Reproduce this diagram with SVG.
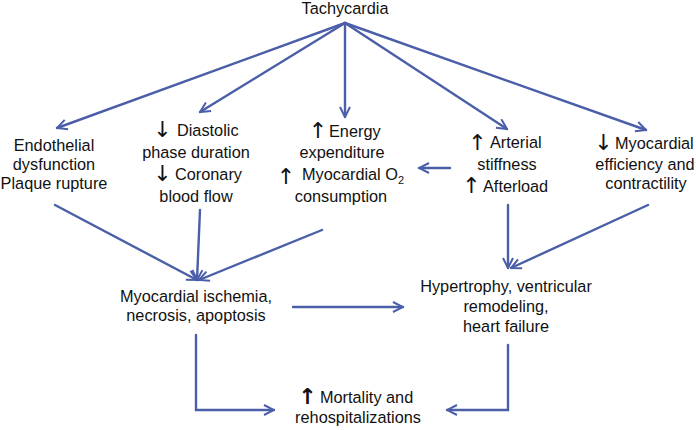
<svg xmlns="http://www.w3.org/2000/svg" width="696" height="430" viewBox="0 0 696 430">
<defs>
<style>
.t{font-family:"Liberation Sans",Arial,sans-serif;font-size:16.3px;fill:#111}
.m{text-anchor:middle}
.ar{font-family:"DejaVu Sans",sans-serif;font-size:22px;fill:#111;text-anchor:middle}
.c{fill:none;stroke:#4a5fa8;stroke-width:2.4;stroke-linecap:round;stroke-linejoin:miter}
</style>
<marker id="ah" viewBox="0 0 12 12" refX="11" refY="6" markerWidth="12" markerHeight="12" markerUnits="userSpaceOnUse" orient="auto">
<path d="M1,1 L11,6 L1,11" fill="none" stroke="#4a5fa8" stroke-width="2"/>
</marker>
</defs>
<rect width="696" height="430" fill="#fff"/>
<g id="connectors">
<path class="c" d="M345,23 L57,128" marker-end="url(#ah)"/>
<path class="c" d="M345,23 L200,112" marker-end="url(#ah)"/>
<path class="c" d="M345,23 L345,117" marker-end="url(#ah)"/>
<path class="c" d="M345,23 L507,129" marker-end="url(#ah)"/>
<path class="c" d="M345,23 L646,130" marker-end="url(#ah)"/>
<path class="c" d="M450,168 L419,168" marker-end="url(#ah)"/>
<path class="c" d="M55,205 L197,280" marker-end="url(#ah)"/>
<path class="c" d="M200,210 L197,280" marker-end="url(#ah)"/>
<path class="c" d="M322,230 L199,280" marker-end="url(#ah)"/>
<path class="c" d="M293,307 L403,307" marker-end="url(#ah)"/>
<path class="c" d="M508,205 L508,268" marker-end="url(#ah)"/>
<path class="c" d="M648,205 L511,268" marker-end="url(#ah)"/>
<path class="c" d="M196,335 L196,410 L274,410" marker-end="url(#ah)"/>
<path class="c" d="M508,345 L508,410 L447,410" marker-end="url(#ah)"/>
</g>
<g id="tachycardia">
<text class="t m" x="345" y="14">Tachycardia</text>
</g>
<g id="endothelial">
<text class="t m" x="54" y="151">Endothelial</text>
<text class="t m" x="54" y="170">dysfunction</text>
<text class="t m" x="54" y="189">Plaque rupture</text>
</g>
<g id="diastolic">
<text class="ar" x="162.5" y="137">↓</text>
<text class="t" x="177" y="136">Diastolic</text>
<text class="t m" x="196" y="158">phase duration</text>
<text class="ar" x="162.5" y="181">↓</text>
<text class="t" x="175" y="180">Coronary</text>
<text class="t m" x="196" y="202">blood flow</text>
</g>
<g id="energy">
<text class="ar" x="318" y="137.5">↑</text>
<text class="t" x="329" y="137">Energy</text>
<text class="t m" x="342" y="158">expenditure</text>
<text class="ar" x="286" y="184">↑</text>
<text class="t" x="302" y="180">Myocardial O<tspan font-size="11" dy="4">2</tspan></text>
<text class="t m" x="341" y="202">consumption</text>
</g>
<g id="arterial">
<text class="ar" x="477.5" y="150">↑</text>
<text class="t" x="490" y="148">Arterial</text>
<text class="t m" x="507" y="170">stiffness</text>
<text class="ar" x="471.5" y="193">↑</text>
<text class="t" x="483" y="192">Afterload</text>
</g>
<g id="efficiency">
<text class="ar" x="603.5" y="150">↓</text>
<text class="t" x="615" y="149">Myocardial</text>
<text class="t m" x="645" y="170">efficiency and</text>
<text class="t m" x="646" y="189">contractility</text>
</g>
<g id="ischemia">
<text class="t m" x="196" y="302">Myocardial ischemia,</text>
<text class="t m" x="196" y="321">necrosis, apoptosis</text>
</g>
<g id="hypertrophy">
<text class="t m" x="506" y="292">Hypertrophy, ventricular</text>
<text class="t m" x="506" y="312">remodeling,</text>
<text class="t m" x="506" y="332">heart failure</text>
</g>
<g id="mortality">
<text class="ar" x="307.5" y="404" font-weight="bold">↑</text>
<text class="t" x="320" y="403">Mortality and</text>
<text class="t m" x="358" y="423">rehospitalizations</text>
</g>
</svg>
